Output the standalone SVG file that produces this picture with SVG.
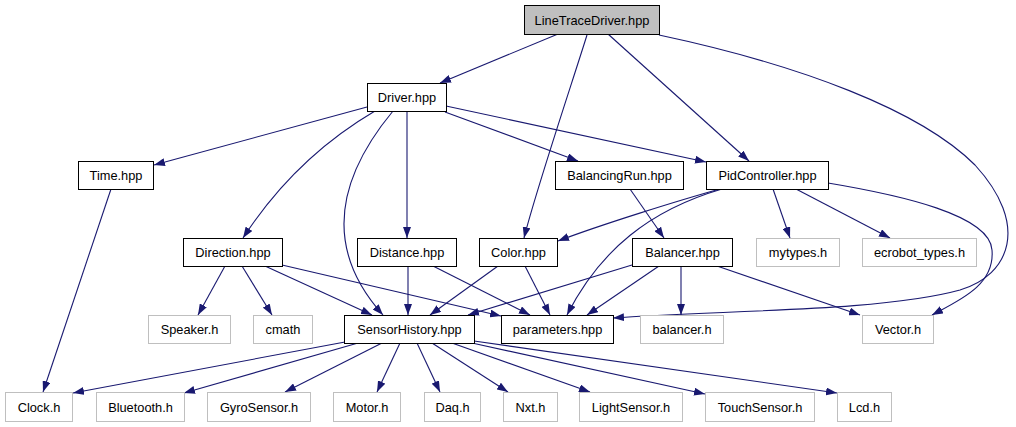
<svg xmlns="http://www.w3.org/2000/svg" width="1016" height="427" viewBox="0 0 1016 427">
<defs>
<style>
.n rect{fill:#fff;stroke:#000;stroke-width:1}
.g rect{fill:#fff;stroke:#bfbfbf;stroke-width:1}
.root rect{fill:#bfbfbf;stroke:#000;stroke-width:1}
text{font-family:"Liberation Sans",Arial,sans-serif;font-size:12.8px;text-anchor:middle;fill:#000}
.e path{fill:none;stroke:#191970;stroke-width:1.1;marker-end:url(#ah)}
</style>
<marker id="ah" viewBox="0 0 11 8" refX="11" refY="4" markerWidth="11" markerHeight="8" markerUnits="userSpaceOnUse" orient="auto"><path d="M0,0 L11,4 L0,8 z" fill="#191970" stroke="none"/></marker>
</defs>
<rect width="1016" height="427" fill="#fff"/>
<g id="edges" class="e">
<path d="M558,34 L440,83"/>
<path d="M587,35 C573,80 536,190 524,238"/>
<path d="M608,34 L749,161"/>
<path d="M659,35 C800,65 920,110 975,165 C1030,225 1010,275 960,290 C880,312 720,310 613,318"/>
<path d="M367,107 L154,165"/>
<path d="M375,111 Q295,158 243,238"/>
<path d="M393,111 C340,175 320,245 383,315"/>
<path d="M407,111 L407,238"/>
<path d="M445,112 L578,161"/>
<path d="M446,106 L706,162"/>
<path d="M111,189 L43,392"/>
<path d="M225,266 L198,315"/>
<path d="M242,266 L272,315"/>
<path d="M265,266 L372,315"/>
<path d="M282,265 L501,316"/>
<path d="M408,266 L408,315"/>
<path d="M433,266 L530,315"/>
<path d="M498,266 L430,315"/>
<path d="M525,266 L550,315"/>
<path d="M630,189 L664,238"/>
<path d="M720,189 C680,200 600,225 558,241"/>
<path d="M722,189 C650,210 600,250 567,315"/>
<path d="M773,189 L790,238"/>
<path d="M796,189 L890,238"/>
<path d="M828,183 C900,195 990,215 992,250 C995,285 960,300 932,315"/>
<path d="M632,265 L468,315"/>
<path d="M659,266 L587,315"/>
<path d="M681,266 L681,315"/>
<path d="M717,266 L860,315"/>
<path d="M345,342 L73,393"/>
<path d="M358,343 L184,393"/>
<path d="M382,343 L285,392"/>
<path d="M400,343 L377,392"/>
<path d="M417,343 L440,392"/>
<path d="M432,343 L508,392"/>
<path d="M452,343 L590,392"/>
<path d="M472,343 L705,394"/>
<path d="M474,341 L837,393"/>
</g>
<g id="n_linetracedriver" class="root"><rect x="524.5" y="5.5" width="135" height="29"/><text x="592" y="24.5">LineTraceDriver.hpp</text></g>
<g id="n_driver" class="n"><rect x="367.5" y="83.5" width="79" height="28"/><text x="407" y="102">Driver.hpp</text></g>
<g id="n_time" class="n"><rect x="78.5" y="161.5" width="75" height="28"/><text x="116" y="180">Time.hpp</text></g>
<g id="n_balancingrun" class="n"><rect x="555.5" y="161.5" width="128" height="28"/><text x="619.5" y="180">BalancingRun.hpp</text></g>
<g id="n_pidcontroller" class="n"><rect x="706.5" y="161.5" width="122" height="28"/><text x="767.5" y="180">PidController.hpp</text></g>
<g id="n_direction" class="n"><rect x="183.5" y="238.5" width="99" height="28"/><text x="233" y="257">Direction.hpp</text></g>
<g id="n_distance" class="n"><rect x="357.5" y="238.5" width="99" height="28"/><text x="407" y="257">Distance.hpp</text></g>
<g id="n_color" class="n"><rect x="479.5" y="238.5" width="78" height="28"/><text x="518.5" y="257">Color.hpp</text></g>
<g id="n_balancer" class="n"><rect x="632.5" y="238.5" width="100" height="28"/><text x="682.5" y="257">Balancer.hpp</text></g>
<g id="n_mytypes" class="g"><rect x="756.5" y="238.5" width="83" height="28"/><text x="798" y="257">mytypes.h</text></g>
<g id="n_ecrobot_types" class="g"><rect x="862.5" y="238.5" width="114" height="28"/><text x="919.5" y="257">ecrobot_types.h</text></g>
<g id="n_speaker" class="g"><rect x="148.5" y="315.5" width="82" height="28"/><text x="189.5" y="334">Speaker.h</text></g>
<g id="n_cmath" class="g"><rect x="253.5" y="315.5" width="59" height="28"/><text x="283" y="334">cmath</text></g>
<g id="n_sensorhistory" class="n"><rect x="344.5" y="315.5" width="130" height="28"/><text x="409.5" y="334">SensorHistory.hpp</text></g>
<g id="n_parameters" class="n"><rect x="501.5" y="315.5" width="112" height="28"/><text x="557.5" y="334">parameters.hpp</text></g>
<g id="n_balancer_h" class="g"><rect x="640.5" y="315.5" width="83" height="28"/><text x="682" y="334">balancer.h</text></g>
<g id="n_vector" class="g"><rect x="862.5" y="315.5" width="71" height="28"/><text x="898" y="334">Vector.h</text></g>
<g id="n_clock" class="g"><rect x="5.5" y="392.5" width="67" height="29"/><text x="39" y="411.5">Clock.h</text></g>
<g id="n_bluetooth" class="g"><rect x="96.5" y="392.5" width="88" height="29"/><text x="140.5" y="411.5">Bluetooth.h</text></g>
<g id="n_gyrosensor" class="g"><rect x="207.5" y="392.5" width="103" height="29"/><text x="259" y="411.5">GyroSensor.h</text></g>
<g id="n_motor" class="g"><rect x="333.5" y="392.5" width="67" height="29"/><text x="367" y="411.5">Motor.h</text></g>
<g id="n_daq" class="g"><rect x="424.5" y="392.5" width="56" height="29"/><text x="452.5" y="411.5">Daq.h</text></g>
<g id="n_nxt" class="g"><rect x="503.5" y="392.5" width="54" height="29"/><text x="530.5" y="411.5">Nxt.h</text></g>
<g id="n_lightsensor" class="g"><rect x="579.5" y="392.5" width="103" height="29"/><text x="631" y="411.5">LightSensor.h</text></g>
<g id="n_touchsensor" class="g"><rect x="705.5" y="392.5" width="109" height="29"/><text x="760" y="411.5">TouchSensor.h</text></g>
<g id="n_lcd" class="g"><rect x="837.5" y="392.5" width="54" height="29"/><text x="864.5" y="411.5">Lcd.h</text></g>
</svg>
